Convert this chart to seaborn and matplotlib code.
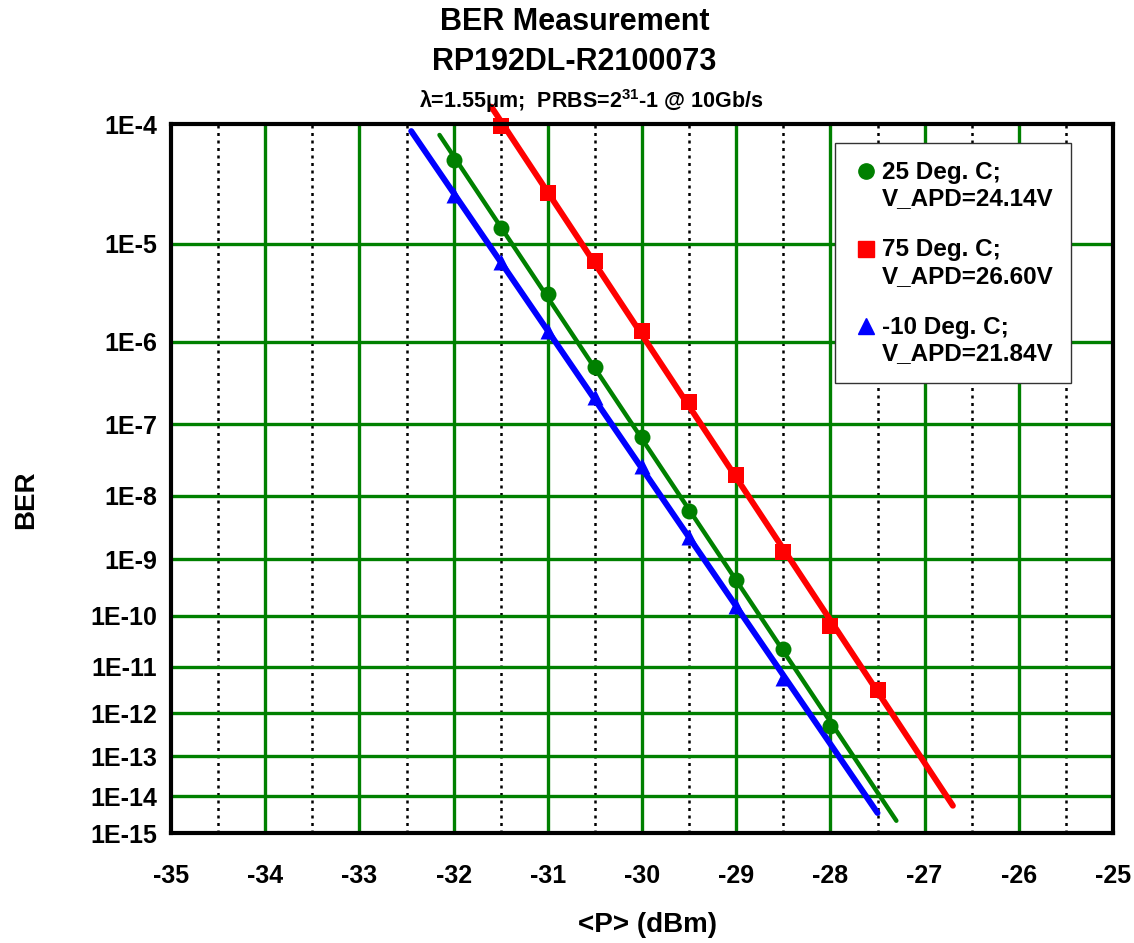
import numpy as np
import pandas as pd
import matplotlib
matplotlib.use("Agg")
import matplotlib.pyplot as plt
from matplotlib.lines import Line2D
from matplotlib.legend_handler import HandlerLine2D
import seaborn as sns

# Received optical power (dBm) and measured bit error ratio for each temperature
power_25c = [-32.0, -31.5, -31.0, -30.5, -30.0, -29.5, -29.0, -28.5, -28.0]
ber_25c = [5.3e-5, 1.4e-5, 3.2e-6, 5.1e-7, 6.8e-8, 6.0e-9, 4.4e-10, 2.3e-11, 5.2e-13]

power_75c = [-31.5, -31.0, -30.5, -30.0, -29.5, -29.0, -28.5, -28.0, -27.5]
ber_75c = [9.7e-5, 2.8e-5, 6.9e-6, 1.3e-6, 1.9e-7, 2.0e-8, 1.3e-9, 6.4e-11, 3.3e-12]

power_m10c = [-32.0, -31.5, -31.0, -30.5, -30.0, -29.5, -29.0, -28.5]
ber_m10c = [2.7e-5, 6.7e-6, 1.3e-6, 2.2e-7, 2.7e-8, 2.3e-9, 1.5e-10, 5.8e-12]

# Power span over which each fitted line is drawn
fit_span_25c = (-32.15, -27.3)
fit_span_75c = (-31.6, -26.7)
fit_span_m10c = (-32.45, -27.5)

labels = ["25 Deg. C;\nV_APD=24.14V", "75 Deg. C;\nV_APD=26.60V", "-10 Deg. C;\nV_APD=21.84V"]
colors = ["#008000", "#ff0000", "#0000ff"]
markers = ["o", "s", "^"]

y_ticks = [10.0 ** -k for k in range(4, 16)]
y_ticklabels = [f"1E-{k}" for k in range(4, 16)]
x_ticks = list(range(-35, -24))


def fwd(y):
    y = np.asarray(y, dtype=float)
    with np.errstate(divide="ignore", invalid="ignore"):
        return -np.log10(-np.log10(y))


def inv(t):
    t = np.asarray(t, dtype=float)
    return 10.0 ** (-(10.0 ** (-t)))


class FirstLineMarker(HandlerLine2D):
    """Legend marker placed beside the first line of a two-line label."""

    def create_artists(self, legend, orig_handle, xdescent, ydescent, width,
                       height, fontsize, trans):
        arts = super().create_artists(legend, orig_handle, xdescent, ydescent,
                                      width, height, fontsize, trans)
        for a in arts:
            a.set_ydata(np.asarray(a.get_ydata(), dtype=float) + 0.6 * fontsize)
            a.set_xdata(np.asarray(a.get_xdata(), dtype=float) + 1.5)
        return arts


sns.set_theme(style="white")
plt.rcParams["font.family"] = ["Liberation Sans", "DejaVu Sans"]
plt.rcParams["font.weight"] = "bold"
plt.rcParams["text.color"] = "black"
plt.rcParams["axes.labelcolor"] = "black"
plt.rcParams["mathtext.fontset"] = "custom"
plt.rcParams["mathtext.bf"] = "Liberation Sans:bold"

fig = plt.figure(figsize=(11.34, 9.43), dpi=100)
ax = fig.add_axes([0.1508, 0.1166, 0.8307, 0.7519])
ax.set_yscale("function", functions=(fwd, inv))
ax.set_xlim(-35, -25)
ax.set_ylim(1e-15, 1e-4)

# Grid: solid green at whole dBm and decades, dotted black at half dBm
for x in x_ticks[1:-1]:
    ax.axvline(x, color="#008000", lw=2.4, zorder=1)
for x in np.arange(-34.5, -25, 1.0):
    ax.axvline(x, color="black", lw=1.8, ls=(0, (1.2, 1.8)), zorder=1)
for y in y_ticks[1:-1]:
    ax.axhline(y, color="#008000", lw=2.4, zorder=1)

series = [
    (power_25c, ber_25c, fit_span_25c, 3.2, 11.5),
    (power_75c, ber_75c, fit_span_75c, 4.3, 11.0),
    (power_m10c, ber_m10c, fit_span_m10c, 4.3, 11.5),
]

for (p, b, span, lw, ms), lab, col, mk in zip(series, labels, colors, markers):
    coef = np.polyfit(p, fwd(b), 1)
    xs = np.linspace(span[0], span[1], 60)
    fit_df = pd.DataFrame({"P": xs, "BER": inv(np.polyval(coef, xs))})
    sns.lineplot(data=fit_df, x="P", y="BER", color=col, lw=lw, ax=ax,
                 sort=False, zorder=3, clip_on=False)
    pts = pd.DataFrame({"P": p, "BER": b})
    sns.scatterplot(data=pts, x="P", y="BER", color=col, marker=mk, s=ms ** 2,
                    linewidth=0, ax=ax, zorder=4, clip_on=False)

ax.set_yticks(y_ticks)
ax.set_yticklabels(y_ticklabels)
ax.minorticks_off()
ax.set_xticks(x_ticks)
ax.set_xticklabels([str(v) for v in x_ticks])
ax.tick_params(axis="both", length=0, labelsize=18, colors="black")
ax.tick_params(axis="y", pad=10)
ax.tick_params(axis="x", pad=22)
for lbl in ax.get_xticklabels() + ax.get_yticklabels():
    lbl.set_fontweight("bold")

for s in ax.spines.values():
    s.set_color("black")
    s.set_linewidth(3)
    s.set_zorder(5)

ax.set_xlabel("<P> (dBm)", fontsize=20, fontweight="bold", va="center")
ax.xaxis.set_label_coords(0.506, -0.13)
ax.set_ylabel("BER", fontsize=20, fontweight="bold", va="center")
ax.yaxis.set_label_coords(-0.154, 0.47)

fig.text(0.5065, 1 - 22 / 943, "BER Measurement", ha="center", va="center",
         fontsize=22, fontweight="bold")
fig.text(0.5065, 1 - 62 / 943, "RP192DL-R2100073", ha="center", va="center",
         fontsize=22, fontweight="bold")
fig.text(0.521, 1 - 101 / 943, r"λ=1.55μm;  PRBS=2$^{\mathbf{31}}$-1 @ 10Gb/s",
         ha="center", va="center", fontsize=15.5, fontweight="bold")

handles = [Line2D([], [], ls="none", marker=m, color=c, markersize=11)
           for m, c in zip(markers, colors)]
leg = ax.legend(handles, labels, loc="upper left",
                bbox_to_anchor=((835 - 171) / 942, 1 - (143 - 124) / 709),
                frameon=True, fancybox=False, framealpha=1, edgecolor="#333333",
                prop={"weight": "bold", "size": 17.5}, handletextpad=0.3,
                handlelength=0.9, labelspacing=1.15, borderpad=0.72,
                borderaxespad=0, handler_map={Line2D: FirstLineMarker()})
leg.get_frame().set_linewidth(1.0)
leg.set_zorder(6)

fig.savefig("out.png", dpi=100, facecolor="white")
